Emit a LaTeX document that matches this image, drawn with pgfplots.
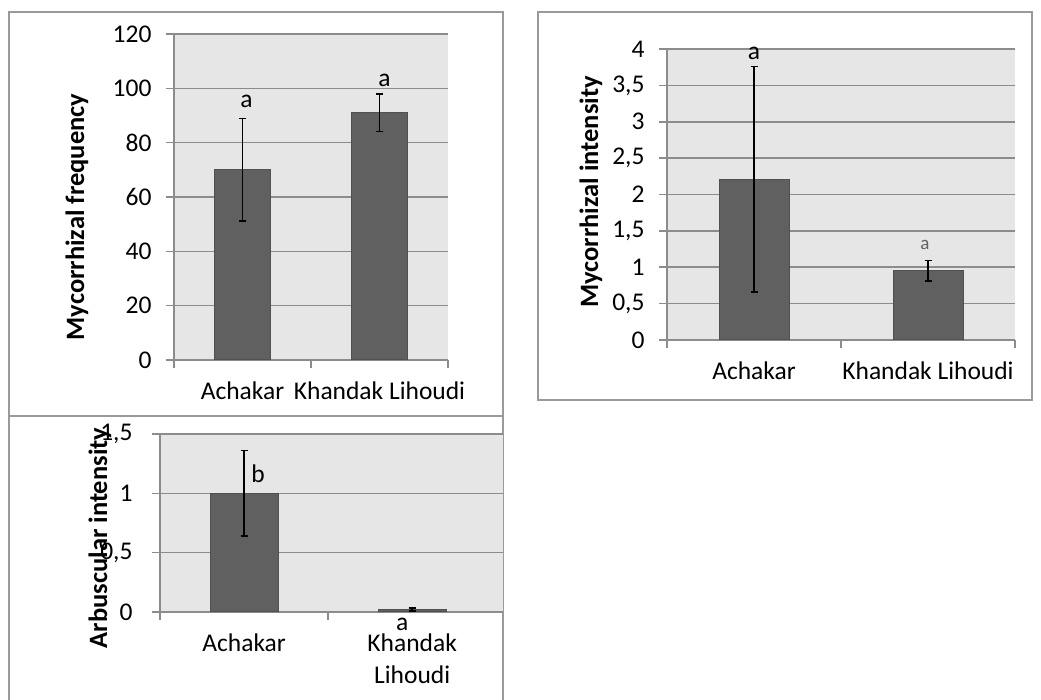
\documentclass[border=0pt]{standalone}
\usepackage{pgfplots}
\pgfplotsset{compat=1.18}
\usepackage{fontspec}
\setmainfont{Carlito}
\definecolor{bgc}{HTML}{E6E6E6}
\definecolor{barc}{HTML}{606060}
\definecolor{bard}{HTML}{505050}
\definecolor{gridc}{HTML}{8C8C8C}
\definecolor{framec}{HTML}{9A9A9A}
\newcommand{\bigf}{\fontsize{25.5}{32}\selectfont}
\newcommand{\labf}{\fontsize{26.5}{32}\selectfont\bfseries}
\pgfplotsset{
  panel/.style={
    scale only axis, anchor=south west, clip=false,
    axis background/.style={fill=bgc},
    axis x line*=bottom, axis y line*=left,
    axis line style={gridc, line width=1.6pt},
    ymajorgrids, grid style={gridc, line width=1.6pt},
    tick align=outside, major tick length=8pt,
    tick style={gridc, line width=1.6pt},
    xtick={-0.5,0.5,1.5}, xticklabels={},
    ymin=0, xmin=-0.5, xmax=1.5,
    extra x ticks={0,1},
    extra x tick style={major tick length=0pt, grid=none,
      tick label style={font=\bigf, align=center, yshift=-18pt}},
    tick label style={font=\bigf},
    yticklabel style={xshift=-11pt},
    /pgf/number format/assume math mode=true,
    /pgf/number format/use comma,
  },
  bars/.style={ybar, fill=barc, draw=bard, line width=1pt,
    error bars/y dir=both, error bars/y explicit,
    error bars/error bar style={black, line width=1.5pt},
    error bars/error mark options={black, line width=1.5pt, mark size=3.5pt, rotate=90}},
}
\begin{document}
\begin{tikzpicture}[x=1pt,y=1pt]
\useasboundingbox (0,0) rectangle (1041,700);
\fill[white] (0,0) rectangle (1041,700);
% frames
\draw[framec, line width=2pt] (9,688) rectangle (503,284);
\draw[framec, line width=2pt] (9,-5) -- (9,284) (503,284) -- (503,-5);
\draw[framec, line width=2pt] (538,688) rectangle (1032,300);

% Panel 1
\begin{axis}[panel, at={(174pt,340pt)}, width=274pt, height=326pt,
  ymax=120, ytick={0,20,40,60,80,100,120},
  extra x tick labels={Achakar, Khandak Lihoudi}]
\addplot[bars, bar width=56pt] coordinates {(0,70) +- (0,18.8) (1,91) +- (0,6.9)};
\node[font=\bigf, anchor=base, xshift=4pt] at (axis cs:0,93.1) {a};
\node[font=\bigf, anchor=base, xshift=5pt] at (axis cs:1,100.8) {a};
\end{axis}
\node[font=\labf, rotate=90] at (77,483) {Mycorrhizal frequency};

% Panel 2
\begin{axis}[panel, at={(667pt,360pt)}, width=348pt, height=291pt,
  ymax=4, ytick={0,0.5,1,1.5,2,2.5,3,3.5,4},
  extra x tick labels={Achakar, Khandak Lihoudi}]
\addplot[bars, bar width=70pt] coordinates {(0,2.21) +- (0,1.55) (1,0.95) +- (0,0.14)};
\node[font=\bigf, anchor=base] at (axis cs:0,3.85) {a};
\node[font=\fontsize{19}{23}\selectfont, text=barc, anchor=base, xshift=-3pt] at (axis cs:1,1.25) {a};
\end{axis}
\node[font=\labf, rotate=90] at (591,508) {Mycorrhizal intensity};

% Panel 3
\begin{axis}[panel, at={(160pt,88pt)}, width=343pt, height=178pt,
  xmax=1.54, xtick={-0.5,0.5},
  ymax=1.5, ytick={0,0.5,1,1.5},
  yticklabel style={xshift=-5pt},
  extra x tick labels={Achakar, {Khandak\\Lihoudi}}]
\addplot[bars, bar width=68pt] coordinates {(0,1.0) +- (0,0.36) (1,0.02) +- (0,0.012)};
\node[font=\bigf, anchor=base, xshift=14pt] at (axis cs:0,1.095) {b};
\node[font=\bigf, anchor=base, xshift=-10pt] at (axis cs:1,-0.16) {a};
\end{axis}
\node[font=\labf, rotate=90] at (100,162) {Arbuscular intensity};
\end{tikzpicture}
\end{document}
